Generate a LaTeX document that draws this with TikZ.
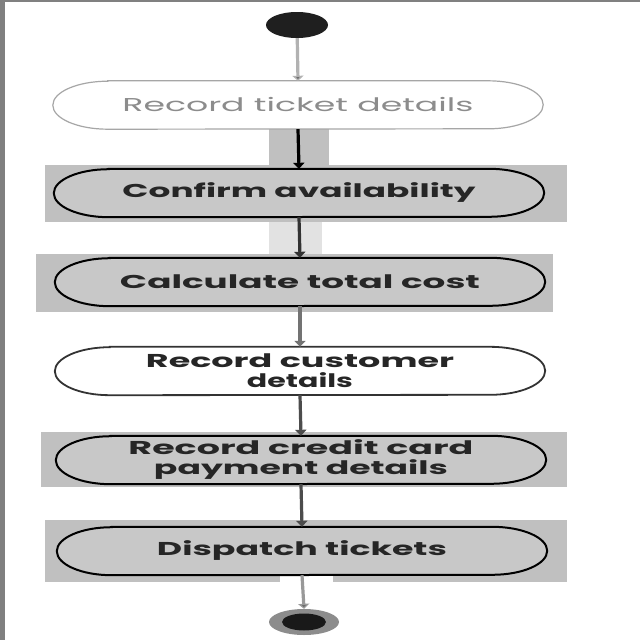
\documentclass[tikz,border=0pt]{standalone}
\usepackage{fontspec}
\setmainfont{Poppins}
\usetikzlibrary{arrows.meta,shapes.geometric}
\pgfdeclarelayer{bgZ}\pgfdeclarelayer{bgA}\pgfdeclarelayer{bgB}
\pgfsetlayers{bgZ,bgA,bgB,main}
\definecolor{bggray}{HTML}{C0C0C0}
\definecolor{stgray}{HTML}{C8C8C8}
\definecolor{ltgray}{HTML}{E2E2E2}
\newcommand\stad[2]{\begin{pgfonlayer}{bgB}\draw[#2] ([xshift=55pt]#1.north west) -- ([xshift=-55pt]#1.north east) arc[start angle=90,end angle=-90,x radius=55pt,y radius=24pt] -- ([xshift=55pt]#1.south west) arc[start angle=270,end angle=90,x radius=55pt,y radius=24pt] -- cycle;\end{pgfonlayer}}
\newcommand\wt[2]{\resizebox{#1pt}{\height}{#2}}
\tikzset{
  act/.style={draw=none,inner sep=0pt,minimum width=490pt,minimum height=48pt,align=center,
    font=\fontsize{18.6}{20}\selectfont\bfseries,text=black!85},
  arr/.style={line width=3.2pt,-{Triangle[width=11pt,length=6pt]}},
  dkst/.style={fill=stgray,draw=black,line width=2pt},
}
\begin{document}
\begin{tikzpicture}[x=1pt,y=-1pt]
\useasboundingbox (0,0) rectangle (640,640);
\begin{pgfonlayer}{bgZ}
\fill[white] (0,0) rectangle (640,640);
\fill[black!50] (0,0) rectangle (5,640);
\fill[black!50] (0,0) rectangle (640,2);
\end{pgfonlayer}
% background highlights
\begin{pgfonlayer}{bgA}
\fill[bggray] (269,128) rectangle (329,166);
\fill[bggray] (45,165) rectangle (567,222);
\fill[ltgray] (269,222) rectangle (322,255);
\fill[bggray] (36,254) rectangle (553,312);
\fill[bggray] (41,432) rectangle (567,487);
\fill[bggray] (45,520) rectangle (567,582);
\fill[white] (280,575) rectangle (333,583);
\end{pgfonlayer}
% start / end
\node[ellipse,fill=black!88,minimum width=62pt,minimum height=26pt,inner sep=0pt] (start) at (297,25) {};
\node[ellipse,fill=black!45,minimum width=70pt,minimum height=26pt,inner sep=0pt] (endo) at (304,622) {};
\node[ellipse,fill=black!90,minimum width=44pt,minimum height=17pt,inner sep=0pt] (endi) at (304,622) {};
% activities
\node[act,font=\fontsize{18.6}{20}\selectfont,text=black!45] (n1) at (298,105) {\wt{351}{Record ticket details}};
\node[act] (n2) at (299,193) {\wt{353}{Confirm availability}};
\node[act] (n3) at (300,282) {\wt{360}{Calculate total cost}};
\node[act] (n4) at (300,371) {\wt{308}{Record customer}\\\wt{106}{details}};
\node[act] (n5) at (301,460) {\wt{345}{Record credit card}\\\wt{294}{payment details}};
\node[act] (n6) at (302,551) {\wt{290}{Dispatch tickets}};
\stad{n1}{fill=white,draw=black!35,line width=1.2pt}
\stad{n2}{dkst}
\stad{n3}{dkst}
\stad{n4}{fill=white,draw=black!80,line width=1.8pt}
\stad{n5}{dkst}
\stad{n6}{dkst}
% connectors
\draw[arr,draw=black!30,-{Triangle[width=11pt,length=5pt,fill=black!60]}] (start) -- (n1.north);
\draw[arr,draw=black] (n1.south) -- (n2.north);
\draw[arr,draw=black!80] (n2.south) -- (n3.north);
\draw[arr,draw=black!55] (n3.south) -- (n4.north);
\draw[arr,draw=black!70] (n4.south) -- (n5.north);
\draw[arr,draw=black!70] (n5.south) -- (n6.north);
\draw[arr,draw=black!40,-{Triangle[width=11pt,length=5pt,fill=black!60]}] (n6.south) -- (endo.north);
\end{tikzpicture}
\end{document}
